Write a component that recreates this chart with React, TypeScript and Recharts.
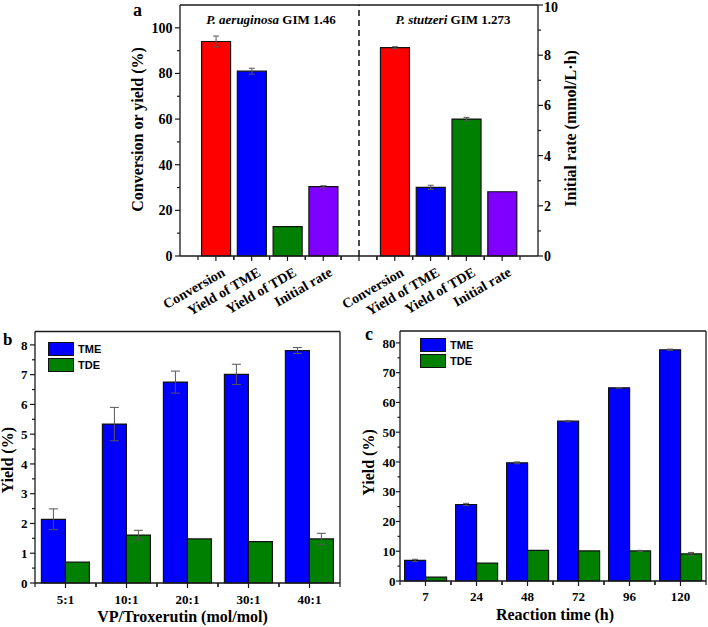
import React from 'react';
import { BarChart, Bar, XAxis, YAxis, Cell, ErrorBar, ReferenceLine, Legend } from 'recharts';

const SERIF = '"Liberation Serif", "Times New Roman", serif';
const SANS = '"Liberation Sans", Arial, sans-serif';
const AX = '#1a1a1a';
const BAR_STROKE = '#111';
const ERR = '#555';

// ---------- Panel a data ----------
const measuresA = ['Conversion', 'Yield of TME', 'Yield of TDE', 'Initial rate'];
const colorsA = ['#ff0000', '#0000ff', '#008000', '#8000ff'];
const aeruginosaYield = [94.0, 81.0, 12.9];
const aeruginosaYieldErr = [2.4, 1.3, 0];
const aeruginosaRate = 2.76;
const aeruginosaRateErr = 0.04;
const stutzeriYield = [91.3, 30.1, 60.0];
const stutzeriYieldErr = [0.4, 0.9, 0.75];
const stutzeriRate = 2.56;
const stutzeriRateErr = 0;
const leftTicksA = [0, 10, 20, 30, 40, 50, 60, 70, 80, 90, 100];
const rightTicksA = [0, 1, 2, 3, 4, 5, 6, 7, 8, 9, 10];

// ---------- Panel b data ----------
const ratiosB = ['5:1', '10:1', '20:1', '30:1', '40:1'];
const tmeB = [2.14, 5.34, 6.75, 7.01, 7.81];
const tmeErrB = [0.35, 0.56, 0.37, 0.34, 0.1];
const tdeB = [0.7, 1.61, 1.48, 1.39, 1.48];
const tdeErrB = [0, 0.16, 0, 0, 0.19];
const yTicksB = [0, 0.5, 1, 1.5, 2, 2.5, 3, 3.5, 4, 4.5, 5, 5.5, 6, 6.5, 7, 7.5, 8];

// ---------- Panel c data ----------
const timesC = ['7', '24', '48', '72', '96', '120'];
const tmeC = [6.9, 25.7, 39.7, 53.7, 64.9, 77.7];
const tmeErrC = [0.4, 0.4, 0.3, 0.2, 0.1, 0.2];
const tdeC = [1.3, 6.0, 10.3, 10.1, 10.1, 9.1];
const tdeErrC = [0, 0, 0, 0, 0.2, 0.5];
const yTicksC = [0, 5, 10, 15, 20, 25, 30, 35, 40, 45, 50, 55, 60, 65, 70, 75, 80];

const seriesOrder = ['TME', 'TDE'];

const buildA = () => {
  const rows: any[] = [];
  const push = (prefix: string, yields: number[], errs: number[], rate: number, rateErr: number) => {
    measuresA.forEach((m, i) => {
      const isRate = i === 3;
      rows.push({
        key: `${prefix}${i}`,
        label: m,
        color: colorsA[i],
        yieldPct: isRate ? null : yields[i],
        yieldErr: isRate ? null : errs[i] || null,
        rate: isRate ? rate : null,
        rateErr: isRate ? rateErr || null : null,
      });
    });
  };
  push('pa', aeruginosaYield, aeruginosaYieldErr, aeruginosaRate, aeruginosaRateErr);
  rows.push({ key: 'gap', label: '', color: 'none', yieldPct: null, yieldErr: null, rate: null, rateErr: null });
  push('ps', stutzeriYield, stutzeriYieldErr, stutzeriRate, stutzeriRateErr);
  return rows;
};
const dataA = buildA();
const dataB = ratiosB.map((r, i) => ({ cat: r, TME: tmeB[i], TMEe: tmeErrB[i] || null, TDE: tdeB[i], TDEe: tdeErrB[i] || null }));
const dataC = timesC.map((t, i) => ({ cat: t, TME: tmeC[i], TMEe: tmeErrC[i] || null, TDE: tdeC[i], TDEe: tdeErrC[i] || null }));

// ---------- layout ----------
const A_W = 708, A_H = 330;
const A_M = { top: 4, right: 110, bottom: 10, left: 120 };
const A_YW = 60;
const A_PAD = 18;
const A_HALF = (A_W - A_M.left - A_M.right - 2 * A_YW - 2 * A_PAD) / dataA.length / 2;

const B_W = 350, B_H = 302;
const B_M = { top: 5.5, right: 9, bottom: 0, left: 0 };
const B_YW = 35;
const B_HALF = (B_W - B_M.left - B_M.right - B_YW - 1) / dataB.length / 2;

const C_W = 358, C_H = 302;
const C_M = { top: 5, right: 1, bottom: 0, left: 0 };
const C_YW = 50;
const C_HALF = (C_W - C_M.left - C_M.right - C_YW - 1) / dataC.length / 2;

const isMult = (v: number, m: number) => Math.abs(v / m - Math.round(v / m)) < 1e-6;

function makeYTick(o: { major: number; side: 'left' | 'right'; gap: number; size: number; majorLen: number; minorLen: number }) {
  return (props: any) => {
    const { x, y, payload } = props;
    const v = payload.value;
    const major = isMult(v, o.major);
    const dir = o.side === 'left' ? -1 : 1;
    const len = major ? o.majorLen : o.minorLen;
    const ty = Math.max(y, o.size * 0.5);
    return (
      <g>
        <line x1={x} x2={x + dir * len} y1={y} y2={y} stroke={AX} strokeWidth={1.2} />
        {major && (
          <text x={x + dir * o.gap} y={ty} dy="0.36em" textAnchor={o.side === 'left' ? 'end' : 'start'}
            fontFamily={SERIF} fontWeight="bold" fontSize={o.size} fill="#000">{v}</text>
        )}
      </g>
    );
  };
}

function makeXTick(half: number, labelDy: number, size: number) {
  return (props: any) => {
    const { x, y, payload } = props;
    return (
      <g>
        <line x1={x} x2={x} y1={y} y2={y + 5} stroke={AX} strokeWidth={1.2} />
        <line x1={x - half} x2={x - half} y1={y} y2={y + 4} stroke={AX} strokeWidth={1.2} />
        <line x1={x + half} x2={x + half} y1={y} y2={y + 4} stroke={AX} strokeWidth={1.2} />
        <text x={x} y={y + labelDy} textAnchor="middle" fontFamily={SERIF} fontWeight="bold" fontSize={size} fill="#000">
          {payload.value}
        </text>
      </g>
    );
  };
}

const TickA = (props: any) => {
  const { x, y, index } = props;
  const row = dataA[index];
  const ax = x + 10, ay = y + 19;
  return (
    <g>
      <line x1={x} x2={x} y1={y} y2={y + 5} stroke={AX} strokeWidth={1.2} />
      <line x1={x - A_HALF} x2={x - A_HALF} y1={y} y2={y + 4} stroke={AX} strokeWidth={1.2} />
      <line x1={x + A_HALF} x2={x + A_HALF} y1={y} y2={y + 4} stroke={AX} strokeWidth={1.2} />
      {row && row.label && (
        <text x={ax} y={ay} transform={`rotate(-30 ${ax} ${ay})`} textAnchor="end"
          fontFamily={SERIF} fontWeight="bold" fontSize={14} fill="#000">{row.label}</text>
      )}
    </g>
  );
};

function yTitle(text: string, dx: number, dy: number, side: 'left' | 'right', size = 16) {
  return (props: any) => {
    const vb = props.viewBox || {};
    const axisX = side === 'left' ? vb.x + vb.width : vb.x;
    const cx = axisX + dx;
    const cy = vb.y + vb.height / 2 + dy;
    return (
      <text x={cx} y={cy} transform={`rotate(-90 ${cx} ${cy})`} textAnchor="middle"
        fontFamily={SERIF} fontWeight="bold" fontSize={size} fill="#000">{text}</text>
    );
  };
}

function xTitle(text: string, dx: number, dy: number, size = 16) {
  return (props: any) => {
    const vb = props.viewBox || {};
    return (
      <text x={vb.x + vb.width / 2 + dx} y={vb.y + dy} textAnchor="middle"
        fontFamily={SERIF} fontWeight="bold" fontSize={size} fill="#000">{text}</text>
    );
  };
}

const renderLegend = (props: any) => {
  const payload = [...(props.payload || [])].sort(
    (a: any, b: any) => seriesOrder.indexOf(a.value) - seriesOrder.indexOf(b.value)
  );
  return (
    <div>
      {payload.map((p: any) => (
        <div key={p.value} style={{ display: 'flex', alignItems: 'center', height: 16 }}>
          <span style={{ display: 'inline-block', width: 26, height: 14, background: p.color, border: '1.3px solid #111', boxSizing: 'border-box' }} />
          <span style={{ marginLeft: 4, fontFamily: SANS, fontWeight: 'bold', fontSize: 11, color: '#000', lineHeight: '14px' }}>{p.value}</span>
        </div>
      ))}
    </div>
  );
};

const axisLine = { stroke: AX, strokeWidth: 1.3 };

function PanelA() {
  return (
    <BarChart width={A_W} height={A_H} data={dataA} margin={A_M} barCategoryGap="10%" barGap={0}>
      <XAxis xAxisId="top" orientation="top" dataKey="key" height={1} tick={false} tickLine={false} axisLine={axisLine} />
      <XAxis dataKey="key" interval={0} tick={TickA} tickLine={false} tickSize={0} tickMargin={0}
        axisLine={axisLine} padding={{ left: A_PAD, right: A_PAD }} height={64} />
      <YAxis yAxisId="l" width={A_YW} domain={[0, 110]} ticks={leftTicksA} interval={0} tickLine={false}
        tickSize={0} tickMargin={0} axisLine={axisLine}
        tick={makeYTick({ major: 20, side: 'left', gap: 7.5, size: 14, majorLen: 5, minorLen: 3 })}
        label={yTitle('Conversion or yield (%)', -37, -1, 'left')} />
      <YAxis yAxisId="r" orientation="right" width={A_YW} domain={[0, 10]} ticks={rightTicksA} interval={0}
        tickLine={false} tickSize={0} tickMargin={0} axisLine={axisLine}
        tick={makeYTick({ major: 2, side: 'right', gap: 6, size: 14, majorLen: 5, minorLen: 3 })}
        label={yTitle('Initial rate (mmol/L·h)', 38, -2, 'right')} />
      <ReferenceLine x="gap" yAxisId="l" stroke="#111" strokeWidth={1.5} strokeDasharray="6 4" />
      <Bar dataKey="yieldPct" yAxisId="l" stackId="s" stroke={BAR_STROKE} strokeWidth={1.2} isAnimationActive={false}>
        {dataA.map((d) => <Cell key={d.key} fill={d.color} />)}
        <ErrorBar dataKey="yieldErr" width={3} stroke={ERR} strokeWidth={1} />
      </Bar>
      <Bar dataKey="rate" yAxisId="r" stackId="s" stroke={BAR_STROKE} strokeWidth={1.2} isAnimationActive={false}>
        {dataA.map((d) => <Cell key={d.key} fill={d.color} />)}
        <ErrorBar dataKey="rateErr" width={3} stroke={ERR} strokeWidth={1} />
      </Bar>
    </BarChart>
  );
}

function PanelB() {
  return (
    <BarChart width={B_W} height={B_H} data={dataB} margin={B_M} barCategoryGap="10.5%" barGap={0}>
      <XAxis xAxisId="top" orientation="top" dataKey="cat" height={1} tick={false} tickLine={false} axisLine={axisLine} />
      <XAxis dataKey="cat" interval={0} tick={makeXTick(B_HALF, 20.5, 13)} tickLine={false} tickSize={0} tickMargin={0}
        axisLine={axisLine} height={44} label={xTitle('VP/Troxerutin (mol/mol)', -5, 38.5)} />
      <YAxis width={B_YW} domain={[0, 8.45]} ticks={yTicksB} interval={0} tickLine={false} tickSize={0} tickMargin={0}
        axisLine={axisLine} tick={makeYTick({ major: 1, side: 'left', gap: 7.5, size: 13, majorLen: 5, minorLen: 3 })}
        label={yTitle('Yield (%)', -22.5, 3, 'left')} />
      <YAxis yAxisId="frame" orientation="right" width={1} type="number" domain={[0, 1]} ticks={[0, 1]}
        tick={false} tickLine={false} axisLine={axisLine} />
      <Legend layout="vertical" align="center" verticalAlign="middle" content={renderLegend}
        wrapperStyle={{ left: 48, top: 15.7, width: 'auto', height: 'auto' }} />
      <Bar dataKey="TME" name="TME" fill="#0000ff" stroke={BAR_STROKE} strokeWidth={1.2} isAnimationActive={false}>
        <ErrorBar dataKey="TMEe" width={4.5} stroke={ERR} strokeWidth={1} />
      </Bar>
      <Bar dataKey="TDE" name="TDE" fill="#008000" stroke={BAR_STROKE} strokeWidth={1.2} isAnimationActive={false}>
        <ErrorBar dataKey="TDEe" width={4.5} stroke={ERR} strokeWidth={1} />
      </Bar>
    </BarChart>
  );
}

function PanelC() {
  return (
    <BarChart width={C_W} height={C_H} data={dataC} margin={C_M} barCategoryGap="9%" barGap={0}>
      <XAxis xAxisId="top" orientation="top" dataKey="cat" height={1} tick={false} tickLine={false} axisLine={axisLine} />
      <XAxis dataKey="cat" interval={0} tick={makeXTick(C_HALF, 20, 13)} tickLine={false} tickSize={0} tickMargin={0}
        axisLine={axisLine} height={46} label={xTitle('Reaction time (h)', 2, 39)} />
      <YAxis width={C_YW} domain={[0, 84]} ticks={yTicksC} interval={0} tickLine={false} tickSize={0} tickMargin={0}
        axisLine={axisLine} tick={makeYTick({ major: 10, side: 'left', gap: 4.5, size: 13, majorLen: 4, minorLen: 2.5 })}
        label={yTitle('Yield (%)', -26, 6.5, 'left')} />
      <YAxis yAxisId="frame" orientation="right" width={1} type="number" domain={[0, 1]} ticks={[0, 1]}
        tick={false} tickLine={false} axisLine={axisLine} />
      <Legend layout="vertical" align="center" verticalAlign="middle" content={renderLegend}
        wrapperStyle={{ left: 70, top: 12.3, width: 'auto', height: 'auto' }} />
      <Bar dataKey="TME" name="TME" fill="#0000ff" stroke={BAR_STROKE} strokeWidth={1.2} isAnimationActive={false}>
        <ErrorBar dataKey="TMEe" width={3} stroke={ERR} strokeWidth={1} />
      </Bar>
      <Bar dataKey="TDE" name="TDE" fill="#008000" stroke={BAR_STROKE} strokeWidth={1.2} isAnimationActive={false}>
        <ErrorBar dataKey="TDEe" width={3} stroke={ERR} strokeWidth={1} />
      </Bar>
    </BarChart>
  );
}

export default function App() {
  const letter = { fontFamily: SERIF, fontWeight: 'bold' as const, fill: '#000' };
  return (
    <div style={{ position: 'absolute', left: 0, top: 0, width: 708, height: 627, overflow: 'hidden', background: '#fff' }}>
      <div style={{ position: 'absolute', left: 0, top: 0 }}>
        <PanelA />
      </div>
      <div style={{ position: 'absolute', left: 0, top: 325 }}>
        <PanelB />
      </div>
      <div style={{ position: 'absolute', left: 350, top: 325 }}>
        <PanelC />
      </div>
      <svg width={708} height={627} style={{ position: 'absolute', left: 0, top: 0, pointerEvents: 'none' }}>
        <text x={133} y={16} fontSize={18} {...letter}>a</text>
        <text x={3} y={345} fontSize={17} {...letter}>b</text>
        <text x={365} y={340} fontSize={18} {...letter}>c</text>
        <text x={271} y={24} textAnchor="middle" fontSize={13} {...letter}>
          <tspan fontStyle="italic">P. aeruginosa</tspan>
          <tspan> GIM 1.46</tspan>
        </text>
        <text x={453} y={24} textAnchor="middle" fontSize={13} {...letter}>
          <tspan fontStyle="italic">P. stutzeri</tspan>
          <tspan> GIM 1.273</tspan>
        </text>
      </svg>
    </div>
  );
}
